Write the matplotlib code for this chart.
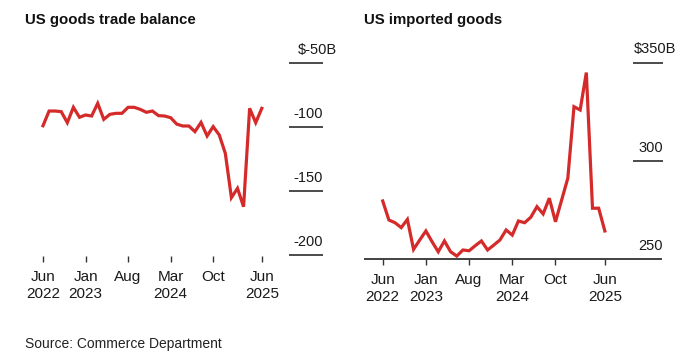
import numpy as np
import matplotlib
matplotlib.use('Agg')
import matplotlib.pyplot as plt
import matplotlib.transforms as mtransforms

matplotlib.rcParams['font.family'] = ['Liberation Sans', 'DejaVu Sans']
matplotlib.rcParams['text.color'] = '#1a1a1a'

red = '#d42b2a'
ink = '#1a1a1a'

# monthly values, Jun 2022 .. Jun 2025
balance = [-99.0, -87.5, -87.5, -88.0, -96.6, -84.6, -92.4, -90.6, -91.4, -81.5,
           -94.0, -90.1, -89.3, -89.3, -84.6, -84.6, -86.2, -88.5, -87.5, -91.1,
           -91.4, -92.7, -97.7, -99.2, -99.2, -103.6, -96.4, -107.0, -99.7, -106.2,
           -120.6, -155.2, -147.9, -162.3, -85.4, -96.6, -85.4]
imports = [279.6, 269.9, 268.5, 266.0, 270.2, 254.9, 259.7, 264.3, 258.8, 253.7,
           259.2, 253.7, 251.5, 254.6, 254.2, 256.8, 259.2, 254.6, 257.1, 259.7,
           264.8, 262.2, 269.4, 268.5, 271.3, 276.7, 273.0, 281.0, 269.0, 280.1,
           291.2, 327.7, 326.0, 345.1, 275.9, 275.9, 264.3]
months = np.arange(len(balance))

tick_pos = [0, 7, 14, 21, 28, 36]
tick_labels = ['Jun\n2022', 'Jan\n2023', 'Aug', 'Mar\n2024', 'Oct', 'Jun\n2025']

bal_ticks = [-50, -100, -150, -200]
bal_labels = ['$-50B', '-100', '-150', '-200']
imp_ticks = [350, 300, 250]
imp_labels = ['$350B', '300', '250']

fig = plt.figure(figsize=(6.8, 3.59), dpi=100)
W, H = 680, 359

def px_axes(x0, x1, y0, y1):
    return fig.add_axes([x0 / W, 1 - y1 / H, (x1 - x0) / W, (y1 - y0) / H])

def style(ax):
    for s in ax.spines.values():
        s.set_visible(False)
    ax.set_yticks([])
    ax.set_xticks(tick_pos)
    ax.set_xticklabels(tick_labels, fontsize=11, color=ink)
    for lbl in ax.get_xticklabels():
        lbl.set_linespacing(1.25)
    ax.tick_params(axis='x', length=4, width=1, color='#333333', pad=6)
    ax.patch.set_alpha(0)

# left: trade balance
ax1 = px_axes(30, 325, 40, 256)
ax1.set_xlim(-2.14, 46.4)
ax1.set_ylim(-200.8, -32)
style(ax1)
ax1.plot(months, balance, color=red, lw=2.3, solid_joinstyle='miter')
off1 = mtransforms.offset_copy(ax1.transData, fig=fig, y=6.5, units='points')
for v, l in zip(bal_ticks, bal_labels):
    ax1.hlines(v, 40.5, 46.0, color=ink, lw=1.1)
    xr = 48.4 if l.startswith('$') else 46.05
    ax1.text(xr, v, l, transform=off1, ha='right', va='baseline', fontsize=10.5)

# right: imports
ax2 = px_axes(360, 665, 40, 259)
ax2.set_xlim(-3.68, 45.75)
ax2.set_ylim(250, 361.7)
style(ax2)
ax2.plot(months, imports, color=red, lw=2.3, solid_joinstyle='miter')
ax2.hlines(250, -3.03, 45.2, color='#333333', lw=1.3, clip_on=False)
off2 = mtransforms.offset_copy(ax2.transData, fig=fig, y=6.8, units='points')
for v, l in zip(imp_ticks, imp_labels):
    if v != 250:
        ax2.hlines(v, 40.6, 45.4, color=ink, lw=1.1)
    xr = 47.5 if l.startswith('$') else 45.4
    ax2.text(xr, v, l, transform=off2, ha='right', va='baseline', fontsize=10.5)

fig.text(25 / W, 1 - 20 / H, 'US goods trade balance', fontsize=10.8, fontweight='bold',
         va='center', ha='left', color='#111111')
fig.text(364 / W, 1 - 20 / H, 'US imported goods', fontsize=10.8, fontweight='bold',
         va='center', ha='left', color='#111111')
fig.text(25 / W, 1 - 344 / H, 'Source: Commerce Department', fontsize=10,
         va='center', ha='left', color='#222222')

fig.savefig('out.png', dpi=100, facecolor='white')
